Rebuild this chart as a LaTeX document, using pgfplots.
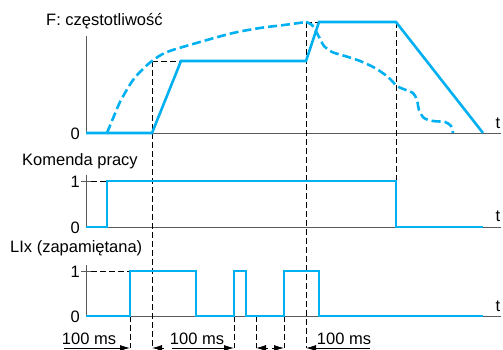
\documentclass[border=0pt]{standalone}
\usepackage{pgfplots}
\pgfplotsset{compat=1.18}
\usepackage{fontspec}
\setmainfont{Liberation Sans}
\usetikzlibrary{arrows.meta}
\definecolor{sblue}{RGB}{0,176,240}
\definecolor{axgray}{RGB}{90,90,90}
\tikzset{lbl/.style={font=\fontsize{16.5bp}{19bp}\selectfont, inner sep=0pt}}
\begin{document}
\begin{tikzpicture}
\begin{axis}[
  width=503bp, height=350bp, scale only axis,
  xmin=0, xmax=503, ymin=0, ymax=350, y dir=reverse,
  axis lines=none, clip=false,
]
\path[use as bounding box] (axis cs:0,0) rectangle (axis cs:503,350);
% axes
\addplot[axgray, line width=1bp] coordinates {(86,36) (86,133) (501,133)};
\addplot[axgray, line width=1bp] coordinates {(86,175) (86,227) (501,227)};
\addplot[axgray, line width=1bp] coordinates {(86,265) (86,316) (501,316)};
\addplot[axgray, line width=1bp] coordinates {(81,181) (91,181)};
\addplot[axgray, line width=1bp] coordinates {(81,271) (91,271)};
% thin dashed guides
\pgfplotsset{guide/.style={black, line width=0.8bp, dash pattern=on 6bp off 3bp}}
\addplot[guide] coordinates {(152,61) (152,348)};
\addplot[guide] coordinates {(306,22) (306,348)};
\addplot[guide] coordinates {(396,22) (396,181)};
\addplot[guide] coordinates {(130,316) (130,348)};
\addplot[guide] coordinates {(234,316) (234,348)};
\addplot[guide] coordinates {(256,316) (256,348)};
\addplot[guide] coordinates {(284,316) (284,348)};
\addplot[guide] coordinates {(152,61) (181,61)};
\addplot[guide] coordinates {(306,22) (319,22)};
\addplot[guide] coordinates {(91,181) (107,181)};
\addplot[guide] coordinates {(91,271) (130,271)};
% F solid
\addplot[sblue, line width=2.6bp] coordinates {(86,133) (152,133) (181,61) (306,61) (319,22) (396,22) (483,133)};
% F dashed rise
\addplot[sblue, line width=2.6bp, dash pattern=on 9bp off 4bp, smooth, tension=0.5] coordinates {
 (107,133) (114,116) (121,100) (133,80) (143,69) (152,61) (167,52) (200,42) (233,33) (260,28) (284,25) (306,22)};
% F dashed fall
\addplot[sblue, line width=2.6bp, dash pattern=on 9bp off 4bp, smooth, tension=0.5] coordinates {
 (306,22) (312,25) (318,35) (324,46) (332,52) (345,56) (360,61) (375,68) (388,77) (397,86) (406,90) (413,93) (417,100) (419,110) (424,118) (433,121) (445,122) (451,126) (453,133)};
% Komenda
\addplot[sblue, line width=2.8bp] coordinates {(86,227) (107,227) (107,181) (396,181) (396,227) (483,227)};
% LIx
\addplot[sblue, line width=2.8bp] coordinates {(86,316) (130,316) (130,271) (196,271) (196,316) (234,316) (234,271) (246,271) (246,316) (284,316) (284,271) (319,271) (319,316) (483,316)};
% arrows
\pgfplotsset{arr/.style={black, line width=0.8bp, -{Latex[length=10bp,width=6bp]}}}
\addplot[arr] coordinates {(64,348) (130,348)};
\addplot[arr] coordinates {(164,348) (152,348)};
\addplot[arr] coordinates {(172,348) (234,348)};
\addplot[arr] coordinates {(268,348) (256,348)};
\addplot[arr] coordinates {(272,348) (284,348)};
\addplot[arr] coordinates {(370,348) (306,348)};
% labels
\node[lbl, anchor=base west] at (axis cs:46,25) {F: częstotliwość};
\node[lbl, anchor=base west] at (axis cs:22,165) {Komenda pracy};
\node[lbl, anchor=base west] at (axis cs:10,252) {LIx (zapamiętana)};
\node[lbl, anchor=base east] at (axis cs:80,139) {0};
\node[lbl, anchor=base east] at (axis cs:80,233) {0};
\node[lbl, anchor=base east] at (axis cs:80,322) {0};
\node[lbl, anchor=base east] at (axis cs:80,187) {1};
\node[lbl, anchor=base east] at (axis cs:80,277) {1};
\node[lbl, anchor=base] at (axis cs:498,128) {t};
\node[lbl, anchor=base] at (axis cs:498,221) {t};
\node[lbl, anchor=base] at (axis cs:498,311) {t};
\node[lbl, anchor=base] at (axis cs:89,344) {100 ms};
\node[lbl, anchor=base] at (axis cs:197,344) {100 ms};
\node[lbl, anchor=base] at (axis cs:344,344) {100 ms};
\end{axis}
\end{tikzpicture}
\end{document}
